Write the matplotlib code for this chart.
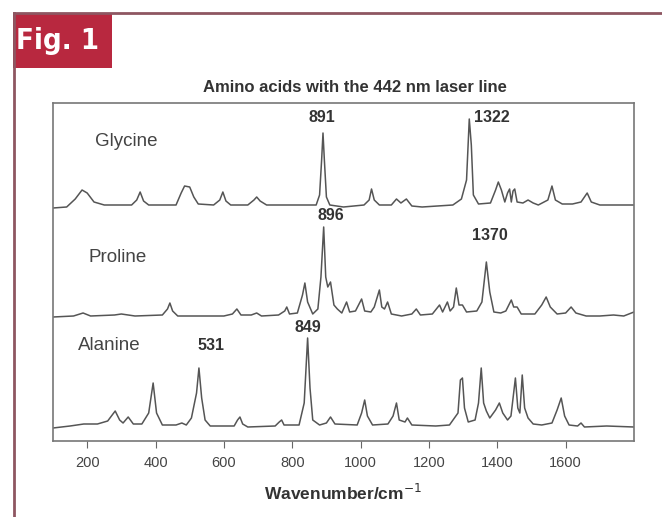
import matplotlib.pyplot as plt
from matplotlib.patches import Rectangle
from matplotlib.lines import Line2D

# spectra as (wavenumber, intensity above own baseline) vertices
glycine_wn = [100, 140, 165, 185, 200, 220, 250, 330, 345, 355, 365, 380, 460, 475, 485, 500, 512, 525,
              570, 588, 597, 606, 620, 670, 688, 696, 706, 725, 870, 880, 886, 890, 894, 900, 910, 950,
              1010, 1025, 1032, 1040, 1055, 1090, 1105, 1118, 1134, 1150, 1180, 1270, 1295, 1310, 1318,
              1324, 1330, 1345, 1380, 1395, 1403, 1412, 1422, 1430, 1436, 1441, 1446, 1451, 1458, 1475,
              1490, 1505, 1520, 1548, 1560, 1570, 1590, 1620, 1645, 1663, 1675, 1700, 1800]
glycine_int = [-3, -2, 6, 15, 12, 3, 0, 0, 5, 13, 4, 0, 0, 12, 19, 18, 8, 1,
               0, 5, 13, 4, 0, 0, 5, 8, 4, 0, 0, 10, 45, 72, 45, 8, 0, -2,
               0, 5, 16, 5, 0, 0, 6, 2, 6, -1, -2, 0, 6, 25, 86,
               60, 10, 1, 2, 15, 23, 15, 3, 12, 16, 3, 14, 16, 3, 2,
               5, 2, 0, 5, 19, 5, 1, 1, 3, 12, 3, 0, 0]

proline_wn = [100, 160, 188, 210, 280, 300, 340, 420, 435, 442, 450, 465, 600, 625, 638, 650, 680, 696,
              710, 760, 778, 784, 792, 815, 830, 837, 845, 860, 875, 884, 892, 898, 904, 912, 922, 932,
              945, 959, 968, 985, 1003, 1012, 1030, 1040, 1055, 1062, 1070, 1079, 1090, 1120, 1150, 1163,
              1175, 1210, 1231, 1240, 1254, 1262, 1272, 1280, 1288, 1298, 1310, 1340, 1355, 1368, 1378,
              1390, 1410, 1425, 1441, 1448, 1458, 1470, 1510, 1530, 1543, 1555, 1575, 1600, 1616, 1630,
              1660, 1700, 1740, 1770, 1800]
proline_int = [0, 1, 4, 1, 2, 3, 1, 2, 8, 14, 6, 1, 1, 3, 8, 2, 2, 4,
               1, 2, 6, 10, 3, 4, 22, 34, 15, 3, 8, 40, 90, 40, 30, 35, 12, 8,
               4, 15, 5, 6, 18, 6, 5, 10, 27, 10, 8, 15, 3, 1, 3, 8,
               2, 3, 12, 5, 15, 6, 10, 29, 12, 12, 5, 6, 15, 55, 25,
               5, 4, 6, 17, 10, 10, 3, 3, 12, 20, 10, 3, 4, 10, 4,
               1, 1, 2, 1, 5]

alanine_wn = [100, 150, 190, 230, 260, 282, 295, 305, 320, 335, 360, 380, 393, 403, 420, 460, 477, 490,
              505, 520, 527, 535, 545, 560, 630, 640, 647, 655, 670, 750, 762, 769, 776, 820, 835, 845,
              852, 860, 880, 900, 912, 925, 990, 1003, 1012, 1020, 1035, 1080, 1095, 1105, 1113, 1130,
              1137, 1150, 1220, 1260, 1285, 1292, 1298, 1304, 1315, 1335, 1345, 1353, 1360, 1368, 1378,
              1395, 1406, 1416, 1430, 1440, 1453, 1460, 1466, 1473, 1480, 1490, 1505, 1530, 1560, 1575,
              1587, 1597, 1610, 1635, 1645, 1655, 1720, 1800]
alanine_int = [0, 2, 4, 4, 7, 17, 8, 5, 11, 4, 4, 15, 45, 15, 3, 3, 5, 3,
               10, 35, 60, 30, 8, 2, 2, 8, 11, 4, 1, 2, 6, 8, 3, 3, 25, 90,
               40, 8, 3, 5, 11, 4, 3, 15, 28, 12, 3, 4, 12, 25, 8, 6,
               10, 3, 2, 3, 15, 48, 50, 20, 6, 8, 25, 60, 25, 17, 10,
               18, 25, 15, 8, 12, 50, 20, 15, 53, 20, 10, 4, 3, 5, 18,
               30, 12, 3, 2, 5, 1, 2, 1]

names = ["Glycine", "Proline", "Alanine"]
baselines = [236, 124, 13]

# peak annotations: text, wavenumber, height
peak_labels = ["891", "1322", "896", "1370", "849", "531"]
peak_x = [886, 1383, 912, 1377, 845, 562]
peak_y = [323, 324, 226, 206, 113, 95]

fig = plt.figure(figsize=(6.62, 5.17), dpi=100)

# magazine style frame + "Fig. 1" tab
fig.add_artist(Line2D([14 / 662, 14 / 662], [0, 1 - 13 / 517], color="#8e5661", lw=2))
fig.add_artist(Line2D([14 / 662, 1], [1 - 13 / 517, 1 - 13 / 517], color="#8e5661", lw=2))
fig.add_artist(Rectangle((13 / 662, 1 - 68 / 517), 99 / 662, 55 / 517,
                         facecolor="#b8283f", edgecolor="none", transform=fig.transFigure))
fig.text(57 / 662, 1 - 41 / 517, "Fig. 1", color="white", fontsize=21, ha="center", va="center",
         family="DejaVu Sans", fontstretch="condensed", fontweight="bold")

fig.text(355 / 662, 1 - 88 / 517, "Amino acids with the 442 nm laser line", ha="center", va="center",
         fontsize=12, fontweight="bold", color="#333333", family="Liberation Sans")

ax = fig.add_axes([53 / 662, 1 - 441 / 517, 581 / 662, 338 / 517])

spectra = [(glycine_wn, glycine_int), (proline_wn, proline_int), (alanine_wn, alanine_int)]
for (wn, inten), base in zip(spectra, baselines):
    ax.plot(wn, [v + base for v in inten], color="#555555", lw=1.1)

name_x = [223, 203, 174]
name_y = [299, 184, 95]
for nm, nx_, ny_ in zip(names, name_x, name_y):
    ax.text(nx_, ny_, nm, fontsize=13.5, color="#444444", va="center", family="Liberation Sans")

for lab, px, py in zip(peak_labels, peak_x, peak_y):
    ax.text(px, py, lab, fontsize=11.5, fontweight="bold", color="#333333", ha="center", va="center",
            family="Liberation Sans")

ax.set_xlim(100, 1800)
ax.set_ylim(0, 338)
ax.set_xticks([200, 400, 600, 800, 1000, 1200, 1400, 1600])
ax.set_yticks([])
ax.tick_params(axis="x", direction="out", length=5, pad=6, color="#666666", labelcolor="#444444",
               labelsize=10.5)
for lab in ax.get_xticklabels():
    lab.set_family("Liberation Sans")
for sp in ax.spines.values():
    sp.set_color("#777777")
    sp.set_linewidth(1.2)
ax.set_xlabel("Wavenumber/cm$^{-1}$", fontsize=12.5, fontweight="bold", color="#333333",
              family="Liberation Sans", labelpad=9)

fig.savefig("out.png", dpi=100)
